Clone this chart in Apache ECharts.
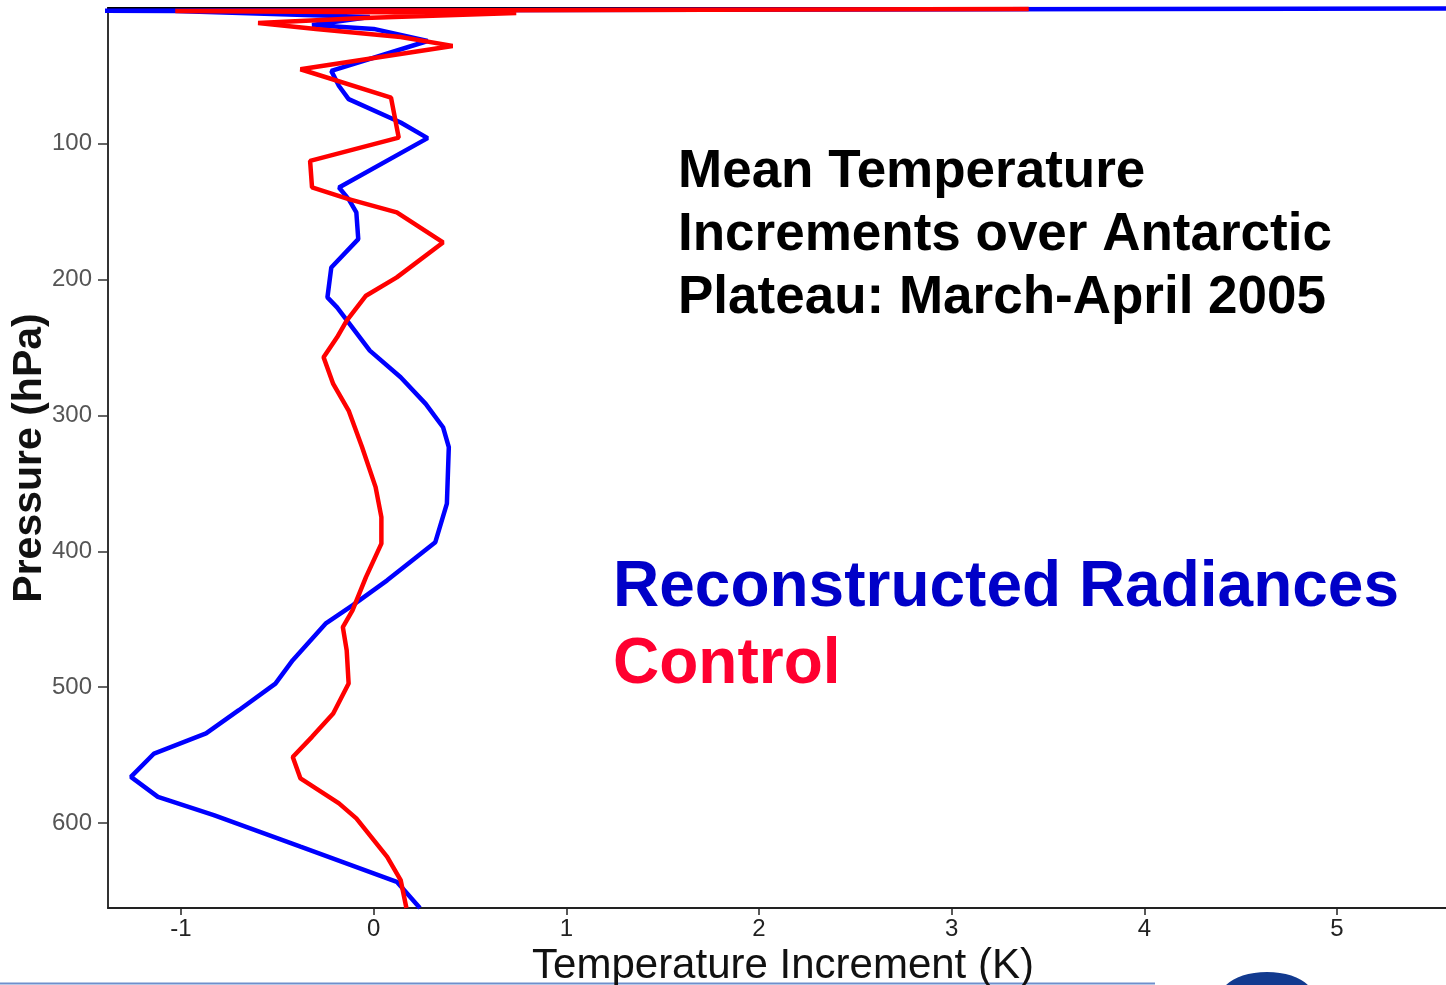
<!DOCTYPE html>
<html><head><meta charset="utf-8">
<script src="https://cdn.jsdelivr.net/npm/echarts@6/dist/echarts.min.js"></script>
<style>html,body{margin:0;padding:0;background:#fff;overflow:hidden}#c{width:1446px;height:985px}</style>
</head><body><div id="c"></div>
<script>
const xTicks = [-1, 0, 1, 2, 3, 4, 5];
const yTicks = [100, 200, 300, 400, 500, 600];
const reconName = 'Reconstructed Radiances';
const controlName = 'Control';
const reconPressure = [662.5, 643.2, 617.4, 594.1, 580.7, 566.0, 548.8, 534.0, 516.9, 497.3, 480.1, 453.2, 439.7, 421.3, 393.2, 364.9, 323.3, 308.6, 291.4, 271.8, 252.2, 220.4, 213.0, 191.0, 170.1, 150.5, 140.7, 132.1, 95.8, 84.3, 67.1, 57.4, 46.3, 24.3, 15.4, 12.5, 6.6, 2.2, 2.0, 0.3];
const reconIncrement = [0.24, 0.12, -0.38, -0.83, -1.12, -1.26, -1.14, -0.87, -0.70, -0.51, -0.42, -0.25, -0.11, 0.07, 0.32, 0.38, 0.39, 0.36, 0.27, 0.14, -0.02, -0.19, -0.24, -0.22, -0.08, -0.09, -0.13, -0.18, 0.28, 0.14, -0.13, -0.18, -0.22, 0.28, 0.00, -0.32, -0.02, -1.03, -1.40, 6.0];
const controlPressure = [662.5, 641.9, 624.8, 596.5, 585.5, 567.1, 551.3, 536.5, 519.3, 497.3, 472.8, 455.7, 443.4, 418.9, 394.3, 374.8, 352.7, 323.3, 296.3, 276.7, 257.1, 242.4, 230.1, 211.8, 198.3, 172.6, 150.5, 140.7, 132.1, 112.5, 95.4, 66.0, 45.1, 27.9, 21.3, 15.4, 11.0, 7.4, 3.7, 2.2, 0.7];
const controlIncrement = [0.17, 0.14, 0.07, -0.09, -0.18, -0.38, -0.42, -0.32, -0.21, -0.13, -0.14, -0.16, -0.11, -0.04, 0.04, 0.04, 0.01, -0.06, -0.13, -0.21, -0.26, -0.19, -0.14, -0.04, 0.12, 0.36, 0.12, -0.13, -0.32, -0.33, 0.13, 0.09, -0.38, 0.41, 0.14, -0.30, -0.60, -0.05, 0.74, -1.03, 3.40];

const reconData = reconPressure.map((p, i) => [reconIncrement[i], p]);
const controlData = controlPressure.map((p, i) => [controlIncrement[i], p]);

const XMIN = -1.379, XMAX = 5.566, YMIN = 0, YMAX = 662.5;
const narrow = "'Liberation Sans Narrow','Arial Narrow','Liberation Sans',Arial,sans-serif";
const sans = "'Liberation Sans',Arial,Helvetica,sans-serif";

const chart = echarts.init(document.getElementById('c'), null, {renderer: 'canvas'});
chart.setOption({
  animation: false,
  backgroundColor: '#ffffff',
  grid: {left: 108, right: 0, top: 8, bottom: 77, containLabel: false, outerBoundsMode: 'none'},
  xAxis: [{
    type: 'value', min: XMIN, max: XMAX, position: 'bottom',
    axisLine: {show: true, onZero: false, lineStyle: {color: '#222', width: 2}},
    axisTick: {show: true, customValues: xTicks, length: 7, lineStyle: {color: '#222', width: 1.5}},
    axisLabel: {customValues: xTicks, margin: 9, fontSize: 24, color: '#222', fontFamily: narrow},
    splitLine: {show: false},
    name: 'Temperature Increment (K)', nameLocation: 'middle', nameGap: 31,
    nameTextStyle: {fontSize: 42, color: '#111', fontFamily: narrow, padding: [0, 0, 0, 12]}
  }, {
    type: 'value', min: XMIN, max: XMAX, position: 'top',
    axisLine: {show: true, onZero: false, lineStyle: {color: '#000', width: 2}},
    axisTick: {show: false}, axisLabel: {show: false}, splitLine: {show: false}
  }],
  yAxis: {
    type: 'value', inverse: true, min: YMIN, max: YMAX,
    axisLine: {show: true, onZero: false, lineStyle: {color: '#333', width: 2}},
    axisTick: {show: true, customValues: yTicks, length: 10, lineStyle: {color: '#333', width: 1.5}},
    axisLabel: {customValues: yTicks, margin: 16, fontSize: 24, color: '#555', fontFamily: sans},
    splitLine: {show: false},
    name: 'Pressure (hPa)', nameLocation: 'middle', nameGap: 58, nameRotate: 90,
    nameMoveOverlap: false,
    nameTextStyle: {fontSize: 41, fontWeight: 'bold', color: '#111', fontFamily: sans}
  },
  series: [{
    name: reconName, type: 'line', data: reconData, xAxisIndex: 0,
    showSymbol: false, symbol: 'none', smooth: false, clip: true,
    lineStyle: {color: '#0000ff', width: 4.5}, z: 2
  }, {
    name: controlName, type: 'line', data: controlData, xAxisIndex: 0,
    showSymbol: false, symbol: 'none', smooth: false, clip: true,
    lineStyle: {color: '#ff0000', width: 4.5}, z: 3
  }],
  graphic: [
    {type: 'text', left: 678, top: 141, style: {
      text: 'Mean Temperature\nIncrements over Antarctic\nPlateau: March-April 2005',
      font: 'bold 53px ' + sans, fill: '#000', lineHeight: 63}},
    {type: 'text', left: 613, top: 556, style: {
      text: reconName, font: 'bold 64px ' + sans, fill: '#0000c8'}},
    {type: 'text', left: 613, top: 633, style: {
      text: controlName, font: 'bold 64px ' + sans, fill: '#ff0030'}},
    {type: 'line', shape: {x1: 0, y1: 983.5, x2: 1155, y2: 983.5}, style: {stroke: '#6f8fcc', lineWidth: 2}},
    {type: 'ellipse', shape: {cx: 1267, cy: 996, rx: 46, ry: 24}, style: {fill: '#123a8f'}}
  ]
});
</script></body></html>
